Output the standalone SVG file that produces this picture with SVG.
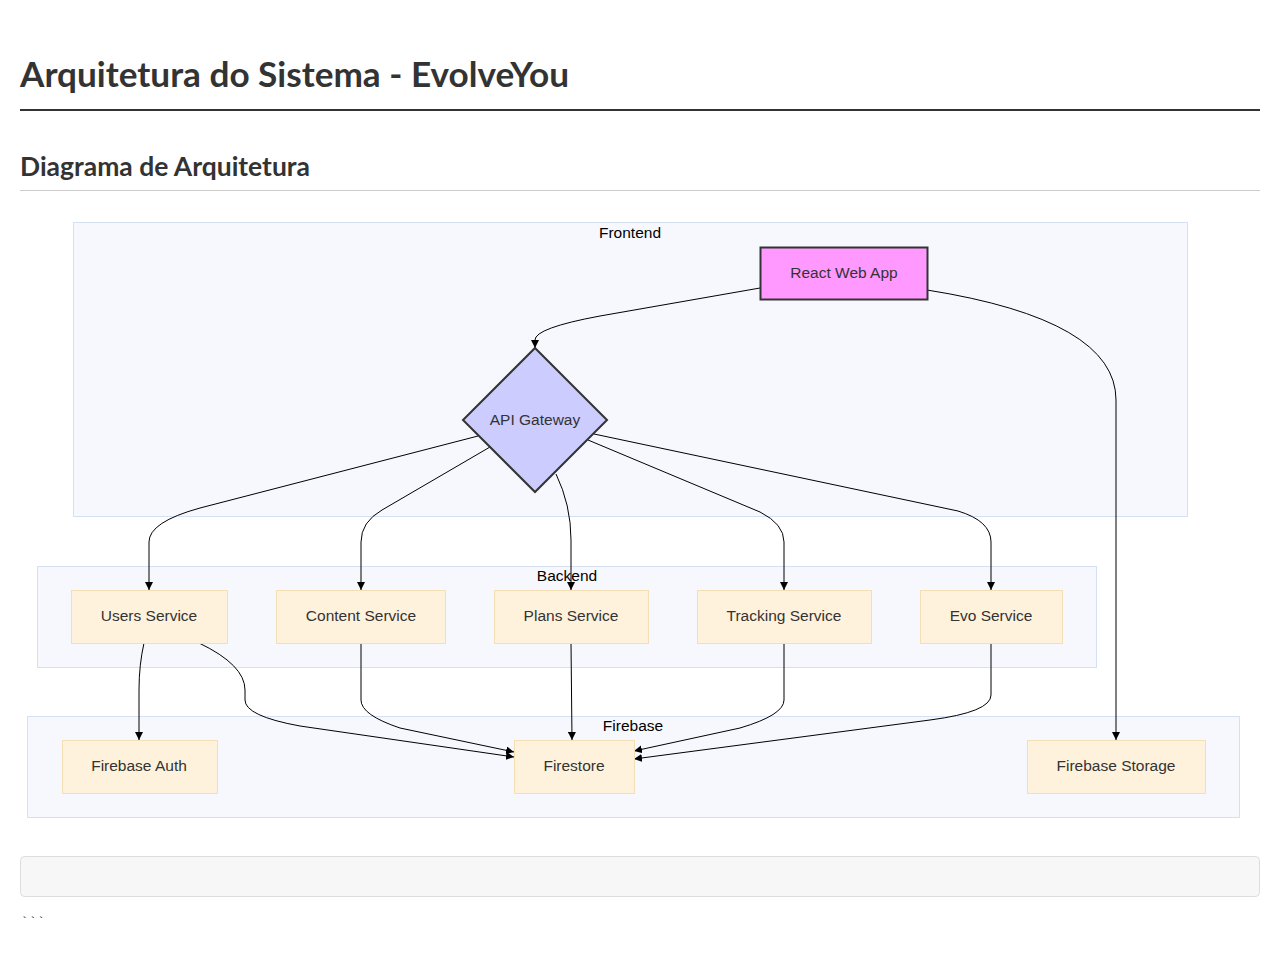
<svg xmlns="http://www.w3.org/2000/svg" width="1280" height="958" viewBox="0 0 1280 958">
<style>
.h{font-family:Lato,"Noto Sans","Liberation Sans",sans-serif;font-weight:700;fill:#333}
.cl{fill:#f7f8fd;stroke:#d5e0f5;stroke-width:1}
.cll{font-family:"Liberation Sans",Arial,sans-serif;font-size:15.5px;fill:#000;text-anchor:middle}
.n{fill:#fff2dc;stroke:#f3dfb3;stroke-width:1}
.t{font-family:"Liberation Sans",Arial,sans-serif;font-size:15.5px;fill:#333;text-anchor:middle;dominant-baseline:central}
.e{fill:none;stroke:#000;stroke-width:1;marker-end:url(#a)}
</style>
<defs>
<marker id="a" viewBox="0 0 10 10" refX="10" refY="5" markerWidth="8" markerHeight="8" markerUnits="userSpaceOnUse" orient="auto">
<path d="M0,0 L10,5 L0,10 z" fill="#000"/>
</marker>
</defs>
<rect width="1280" height="958" fill="#fff"/>
<text class="h" x="20" y="87" font-size="34" textLength="549" lengthAdjust="spacingAndGlyphs">Arquitetura do Sistema - EvolveYou</text>
<rect x="20" y="109" width="1240" height="2" fill="#333"/>
<text class="h" x="20" y="176" font-size="26" textLength="290" lengthAdjust="spacingAndGlyphs">Diagrama de Arquitetura</text>
<rect x="20" y="190" width="1240" height="1" fill="#ccc"/>

<g id="cluster-frontend"><rect class="cl" x="73.5" y="222.5" width="1114" height="294"/><text class="cll" x="630" y="238">Frontend</text></g>
<g id="cluster-backend"><rect class="cl" x="37.5" y="566.5" width="1059" height="101"/><text class="cll" x="567" y="581">Backend</text></g>
<g id="cluster-firebase"><rect class="cl" x="27.5" y="716.5" width="1212" height="101"/><text class="cll" x="633" y="731">Firebase</text></g>

<g id="edges">
<path class="e" d="M760,288 L600,316 Q535,328 535,340 L535,348"/>
<path class="e" d="M927,290 Q1116,320 1116,400 L1116,740"/>
<path class="e" d="M478,436 L200,508 Q149,522 149,542 L149,590"/>
<path class="e" d="M490,447 L382,510 Q361,522 361,542 L361,590"/>
<path class="e" d="M556,474 Q571,505 571,540 L571,590"/>
<path class="e" d="M588,440 L760,512 Q784,524 784,542 L784,590"/>
<path class="e" d="M594,434 L958,511 Q991,521 991,542 L991,590"/>
<path class="e" d="M144,643 Q139,665 139,690 L139,740"/>
<path class="e" d="M199,643 Q245,665 245,690 L245,700 Q245,716 300,726 L514,757"/>
<path class="e" d="M361,643 L361,700 Q361,715 400,728 L514,752"/>
<path class="e" d="M571,643 L572,740"/>
<path class="e" d="M784,643 L784,700 Q784,715 740,728 L634,751"/>
<path class="e" d="M991,643 L991,695 Q991,712 930,720 L634,759"/>
</g>

<g id="react"><rect x="760.5" y="247.5" width="167" height="52" fill="#ff99ff" stroke="#333" stroke-width="2"/><text class="t" x="844" y="272">React Web App</text></g>
<g id="gateway"><polygon points="535,348 607,420 535,492 463,420" fill="#ccccff" stroke="#333" stroke-width="2"/><text class="t" x="535" y="419">API Gateway</text></g>
<g id="users"><rect class="n" x="71.5" y="590.5" width="156" height="53"/><text class="t" x="149" y="615">Users Service</text></g>
<g id="content"><rect class="n" x="276.5" y="590.5" width="169" height="53"/><text class="t" x="361" y="615">Content Service</text></g>
<g id="plans"><rect class="n" x="494.5" y="590.5" width="154" height="53"/><text class="t" x="571" y="615">Plans Service</text></g>
<g id="tracking"><rect class="n" x="697.5" y="590.5" width="174" height="53"/><text class="t" x="784" y="615">Tracking Service</text></g>
<g id="evo"><rect class="n" x="920.5" y="590.5" width="142" height="53"/><text class="t" x="991" y="615">Evo Service</text></g>
<g id="auth"><rect class="n" x="62.5" y="740.5" width="155" height="53"/><text class="t" x="139" y="765">Firebase Auth</text></g>
<g id="firestore"><rect class="n" x="514.5" y="740.5" width="120" height="53"/><text class="t" x="574" y="765">Firestore</text></g>
<g id="storage"><rect class="n" x="1027.5" y="740.5" width="178" height="53"/><text class="t" x="1116" y="765">Firebase Storage</text></g>

<rect x="20.5" y="856.5" width="1239" height="40" rx="4" fill="#f7f7f7" stroke="#ddd"/>
<text x="21" y="926" font-family="'Liberation Mono',monospace" font-size="12" fill="#222" letter-spacing="1">```</text>
</svg>
